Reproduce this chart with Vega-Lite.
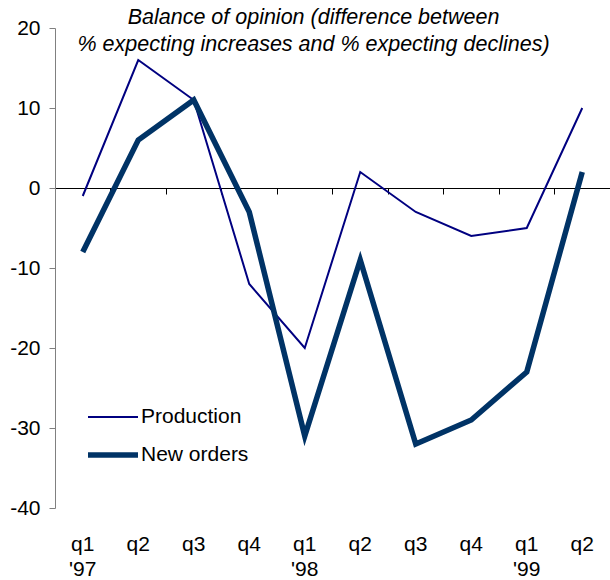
{
  "$schema": "https://vega.github.io/schema/vega-lite/v6.json",
  "width": 555,
  "height": 480,
  "autosize": "none",
  "padding": {"left": 55, "top": 28, "right": 0, "bottom": 72},
  "config": {
    "font": "Liberation Sans",
    "view": {"stroke": null},
    "axis": {"grid": false},
    "legend": {"padding": 0}
  },
  "title": {
    "text": ["Balance of opinion (difference between", "% expecting increases and % expecting declines)"],
    "font": "Liberation Sans",
    "fontStyle": "italic",
    "fontWeight": "normal",
    "fontSize": 21.5,
    "color": "black",
    "anchor": "middle",
    "frame": "group",
    "baseline": "alphabetic",
    "offset": 0,
    "dx": -19,
    "dy": 55,
    "lineHeight": 27
  },
  "data": {
    "values": [
      {"period": "q1 '97", "series": "Production", "value": -1},
      {"period": "q2 '97", "series": "Production", "value": 16},
      {"period": "q3 '97", "series": "Production", "value": 11},
      {"period": "q4 '97", "series": "Production", "value": -12},
      {"period": "q1 '98", "series": "Production", "value": -20},
      {"period": "q2 '98", "series": "Production", "value": 2},
      {"period": "q3 '98", "series": "Production", "value": -3},
      {"period": "q4 '98", "series": "Production", "value": -6},
      {"period": "q1 '99", "series": "Production", "value": -5},
      {"period": "q2 '99", "series": "Production", "value": 10},
      {"period": "q1 '97", "series": "New orders", "value": -8},
      {"period": "q2 '97", "series": "New orders", "value": 6},
      {"period": "q3 '97", "series": "New orders", "value": 11},
      {"period": "q4 '97", "series": "New orders", "value": -3},
      {"period": "q1 '98", "series": "New orders", "value": -31},
      {"period": "q2 '98", "series": "New orders", "value": -9},
      {"period": "q3 '98", "series": "New orders", "value": -32},
      {"period": "q4 '98", "series": "New orders", "value": -29},
      {"period": "q1 '99", "series": "New orders", "value": -23},
      {"period": "q2 '99", "series": "New orders", "value": 2}
    ]
  },
  "layer": [
    {
      "mark": {"type": "point", "opacity": 0},
      "encoding": {
        "x": {
          "field": "period", "type": "ordinal", "sort": null,
          "scale": {"type": "band", "paddingInner": 0, "paddingOuter": 0},
          "axis": {
            "orient": "bottom", "offset": -320, "title": null, "labels": false,
            "domain": true, "domainColor": "black", "domainWidth": 1,
            "ticks": true, "tickColor": "black", "tickSize": 6, "tickWidth": 1,
            "bandPosition": 0
          }
        },
        "y": {"field": "value", "type": "quantitative"}
      }
    },
    {
      "mark": {"type": "line", "strokeJoin": "miter", "strokeCap": "butt"},
      "encoding": {
        "x": {
          "field": "period", "type": "ordinal", "sort": null, "bandPosition": 0.5,
          "axis": {
            "orient": "bottom", "title": null, "domain": false, "ticks": false,
            "labelAngle": 0, "labelPadding": 25, "labelFontSize": 21, "labelColor": "black",
            "labelBaseline": "top", "labelLineHeight": 25, "labelAlign": "center",
            "labelExpr": "slice(datum.label,0,2) == 'q1' ? [slice(datum.label,0,2), slice(datum.label,3)] : slice(datum.label,0,2)"
          }
        },
        "y": {
          "field": "value", "type": "quantitative",
          "scale": {"domain": [-40, 20], "nice": false, "zero": false},
          "axis": {
            "title": null, "values": [-40, -30, -20, -10, 0, 10, 20],
            "labelExpr": "datum.value + ''",
            "domainColor": "#808080", "tickColor": "#808080", "tickSize": 6,
            "labelPadding": 9, "labelFontSize": 21, "labelColor": "black"
          }
        },
        "color": {
          "field": "series", "type": "nominal",
          "scale": {"domain": ["Production", "New orders"], "range": ["#000080", "#003366"]},
          "legend": {
            "title": null, "orient": "none", "legendX": 30, "legendY": 363,
            "symbolType": "stroke", "symbolSize": 2500, "rowPadding": -14,
            "labelFontSize": 21, "labelColor": "black", "labelOffset": 0
          }
        },
        "strokeWidth": {
          "field": "series", "type": "nominal",
          "scale": {"domain": ["Production", "New orders"], "range": [2, 5.5]},
          "legend": {
            "title": null, "orient": "none", "legendX": 30, "legendY": 363,
            "symbolType": "stroke", "symbolSize": 2500, "rowPadding": -14,
            "labelFontSize": 21, "labelColor": "black", "labelOffset": 0
          }
        }
      }
    }
  ],
  "resolve": {"axis": {"x": "independent"}}
}
